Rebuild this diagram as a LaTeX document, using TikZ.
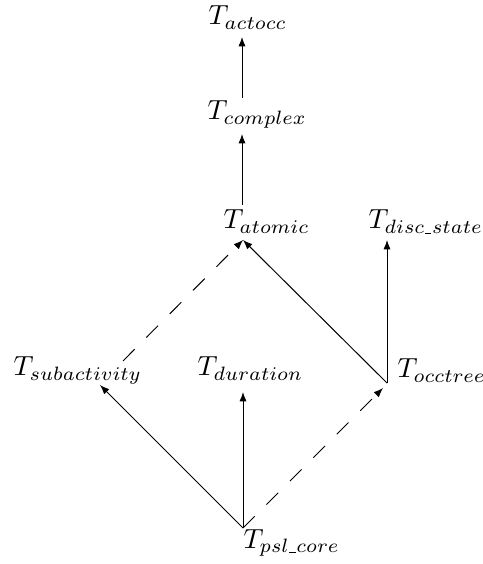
\documentclass[tikz,border=0pt]{standalone}
\usetikzlibrary{arrows.meta}
\newcommand\uscore{\mbox{\kern0.3pt\rule[-0.2pt]{2.2pt}{0.35pt}\kern0.3pt}}
\begin{document}
\begin{tikzpicture}[x=0.362pt,y=-0.362pt,
  lbl/.style={anchor=base west,inner sep=0pt},
  arr/.style={draw,line width=0.36pt,-{Latex[length=3.4pt,width=2.6pt]}},
  darr/.style={arr,dash pattern=on 6pt off 6pt}]
\useasboundingbox (0,0) rectangle (482,564);
% labels
\node[lbl] (actocc) at (208,25) {$T_{actocc}$};
\node[lbl] (complex) at (207,120) {$T_{complex}$};
\node[lbl] (atomic) at (223,229) {$T_{atomic}$};
\node[lbl] (disc) at (368,229) {$T_{disc\uscore state}$};
\node[lbl] (subact) at (13,376) {$T_{subactivity}$};
\node[lbl] (duration) at (197,376) {$T_{duration}$};
\node[lbl] (occtree) at (397,378) {$T_{occtree}$};
\node[lbl] (pslcore) at (243,548) {$T_{psl\uscore core}$};
% connection points
\coordinate (pActTip) at (242,37);
\coordinate (pCompBot) at (242,98);
\coordinate (pCompTip) at (242,134);
\coordinate (pAtomBot) at (242,205);
\coordinate (pAtomTip) at (243,240);
\coordinate (pDiscTip) at (387,240);
\coordinate (pOcc) at (387,383);
\coordinate (pOccTip) at (383,388);
\coordinate (pSubTip) at (100,385);
\coordinate (pSubTop) at (123,361);
\coordinate (pDurTip) at (243,392);
\coordinate (pPsl) at (243,528);
% connectors
\draw[arr] (pCompBot) -- (pActTip);
\draw[arr] (pAtomBot) -- (pCompTip);
\draw[arr] (pOcc) -- (pDiscTip);
\draw[arr] (pOcc) -- (pAtomTip);
\draw[darr] (pSubTop) -- (pAtomTip);
\draw[arr] (pPsl) -- (pSubTip);
\draw[arr] (pPsl) -- (pDurTip);
\draw[darr] (pPsl) -- (pOccTip);
\end{tikzpicture}
\end{document}
